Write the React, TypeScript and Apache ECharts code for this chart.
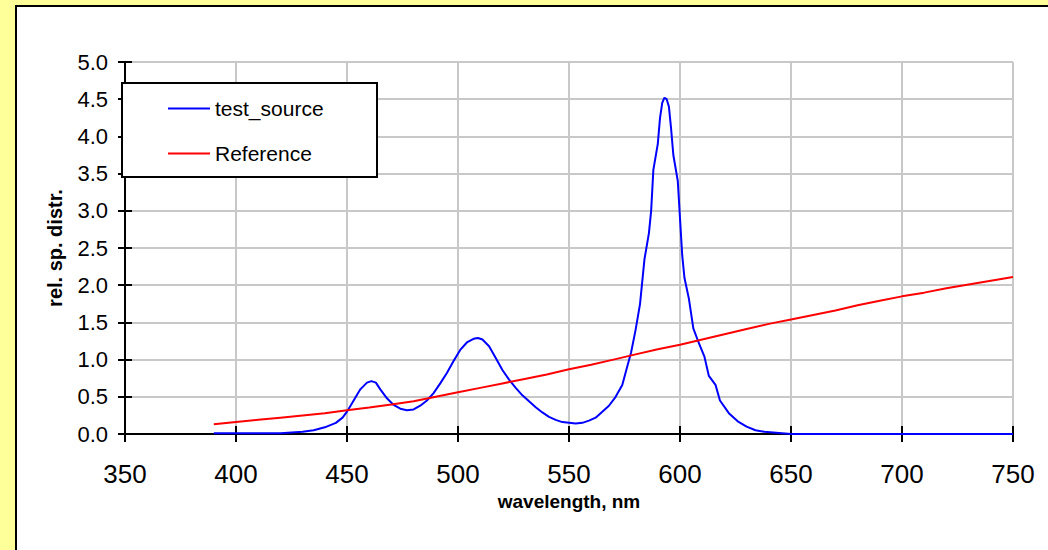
import React, { useEffect, useRef } from "react";
import * as echarts from "echarts";

const refWavelengths = [390, 400, 410, 420, 430, 440, 450, 460, 470, 480, 490, 500, 510, 520, 530, 540, 550, 560, 570, 580, 590, 600, 610, 620, 630, 640, 650, 660, 670, 680, 690, 700, 710, 720, 730, 740, 750];
const refValues = [0.13, 0.16, 0.19, 0.22, 0.25, 0.28, 0.32, 0.355, 0.395, 0.44, 0.5, 0.56, 0.62, 0.68, 0.74, 0.8, 0.87, 0.93, 1.0, 1.07, 1.14, 1.2, 1.27, 1.34, 1.41, 1.48, 1.54, 1.6, 1.66, 1.73, 1.79, 1.85, 1.9, 1.96, 2.01, 2.06, 2.11];

const testWavelengths = [390, 400, 410, 420, 425, 430, 435, 440, 445, 448, 450, 453, 456, 459, 461, 463, 465, 468, 471, 474, 477, 480, 483, 486, 489, 492, 495, 498, 501, 504, 507, 509, 511, 514, 517, 520, 523, 526, 529, 532, 535, 538, 541, 544, 547, 550, 553, 556, 559, 562, 565, 568, 571, 574, 576, 578, 580, 582, 584, 586, 587, 588, 590, 591, 592, 593, 594, 595, 596, 597, 599, 600, 601, 602, 604, 606, 608, 611, 613, 616, 618, 622, 626, 630, 634, 638, 642, 646, 650, 700, 750];
const testValues = [0.01, 0.01, 0.01, 0.01, 0.02, 0.03, 0.05, 0.09, 0.15, 0.22, 0.3, 0.45, 0.6, 0.69, 0.71, 0.69, 0.6, 0.48, 0.39, 0.34, 0.32, 0.33, 0.38, 0.45, 0.55, 0.68, 0.82, 0.98, 1.13, 1.23, 1.28, 1.29, 1.27, 1.18, 1.02, 0.86, 0.73, 0.62, 0.52, 0.44, 0.36, 0.29, 0.23, 0.19, 0.16, 0.15, 0.14, 0.15, 0.18, 0.22, 0.3, 0.38, 0.5, 0.66, 0.88, 1.1, 1.4, 1.75, 2.35, 2.7, 3.0, 3.55, 3.9, 4.25, 4.45, 4.52, 4.5, 4.4, 4.1, 3.75, 3.4, 2.9, 2.4, 2.1, 1.82, 1.42, 1.26, 1.04, 0.78, 0.66, 0.45, 0.28, 0.17, 0.1, 0.05, 0.03, 0.02, 0.01, 0.0, 0.0, 0.0];

const seriesNames = ["test_source", "Reference"];
const xTitle = "wavelength, nm";
const yTitle = "rel. sp. distr.";

const FONT = 'Arial, "Liberation Sans", sans-serif';

export default function App() {
  const ref = useRef<HTMLDivElement>(null);
  useEffect(() => {
    if (!ref.current) return;
    const chart = echarts.init(ref.current, undefined, { renderer: "svg" });
    const baseX = { type: "value", min: 350, max: 750, interval: 50 };
    const baseY = { type: "value", min: 0, max: 5, interval: 0.5 };
    chart.setOption({
      animation: false,
      backgroundColor: "transparent",
      textStyle: { fontFamily: FONT },
      grid: {
        left: 125,
        right: 35,
        top: 62,
        bottom: 116,
        show: true,
        borderColor: "#808080",
        borderWidth: 1,
        backgroundColor: "transparent",
        outerBoundsMode: "none",
      },
      xAxis: [
        {
          ...baseX,
          position: "bottom",
          name: xTitle,
          nameLocation: "middle",
          nameGap: 57,
          nameTextStyle: { fontSize: 19, fontWeight: "bold", color: "#000", fontFamily: FONT },
          axisLine: { show: true, onZero: false, lineStyle: { color: "#000", width: 2 } },
          axisTick: { show: true, inside: false, length: 8, lineStyle: { color: "#000", width: 2 } },
          axisLabel: { fontSize: 26, color: "#000", margin: 27, fontFamily: FONT },
          splitLine: { show: true, lineStyle: { color: "#c8c8c8", width: 2 } },
        },
        {
          ...baseX,
          position: "bottom",
          axisLine: { show: false, onZero: false },
          axisTick: { show: true, inside: true, length: 8, lineStyle: { color: "#000", width: 2 } },
          axisLabel: { show: false },
          splitLine: { show: false },
        },
      ],
      yAxis: [
        {
          ...baseY,
          position: "left",
          name: yTitle,
          nameLocation: "middle",
          nameGap: 60,
          nameTextStyle: { fontSize: 20, fontWeight: "bold", color: "#000", fontFamily: FONT },
          axisLine: { show: true, onZero: false, lineStyle: { color: "#000", width: 2 } },
          axisTick: { show: true, inside: false, length: 7, lineStyle: { color: "#000", width: 2 } },
          axisLabel: {
            fontSize: 22,
            color: "#000",
            margin: 17,
            fontFamily: FONT,
            formatter: (v: number) => v.toFixed(1),
          },
          splitLine: { show: true, lineStyle: { color: "#c8c8c8", width: 2 } },
        },
        {
          ...baseY,
          position: "left",
          axisLine: { show: false, onZero: false },
          axisTick: { show: true, inside: true, length: 7, lineStyle: { color: "#000", width: 2 } },
          axisLabel: { show: false },
          splitLine: { show: false },
        },
      ],
      legend: {
        data: seriesNames,
        orient: "vertical",
        left: 168,
        top: 98,
        icon: "rect",
        itemWidth: 42,
        itemHeight: 2,
        itemGap: 24,
        padding: 0,
        z: 200,
        textStyle: { fontSize: 21, color: "#000", fontFamily: FONT },
      },
      graphic: [
        {
          type: "rect",
          z: 100,
          shape: { x: 122, y: 83, width: 255, height: 94 },
          style: { fill: "#fff", stroke: "#000", lineWidth: 2 },
        },
      ],
      series: [
        {
          name: seriesNames[0],
          type: "line",
          xAxisIndex: 0,
          yAxisIndex: 0,
          symbol: "none",
          lineStyle: { color: "#0000ff", width: 2 },
          itemStyle: { color: "#0000ff" },
          data: testWavelengths.map((w, i) => [w, testValues[i]]),
        },
        {
          name: seriesNames[1],
          type: "line",
          xAxisIndex: 0,
          yAxisIndex: 0,
          symbol: "none",
          lineStyle: { color: "#ff0000", width: 2 },
          itemStyle: { color: "#ff0000" },
          data: refWavelengths.map((w, i) => [w, refValues[i]]),
        },
      ],
    });
    return () => chart.dispose();
  }, []);

  return (
    <div style={{ position: "fixed", left: 0, top: 0, width: 1048, height: 550, background: "#ffff99", overflow: "hidden" }}>
      <div
        style={{
          position: "absolute",
          left: 15,
          top: 5,
          width: 1100,
          height: 600,
          background: "#fff",
          border: "2px solid #000",
        }}
      />
      <div ref={ref} style={{ position: "absolute", left: 0, top: 0, width: 1048, height: 550 }} />
    </div>
  );
}
